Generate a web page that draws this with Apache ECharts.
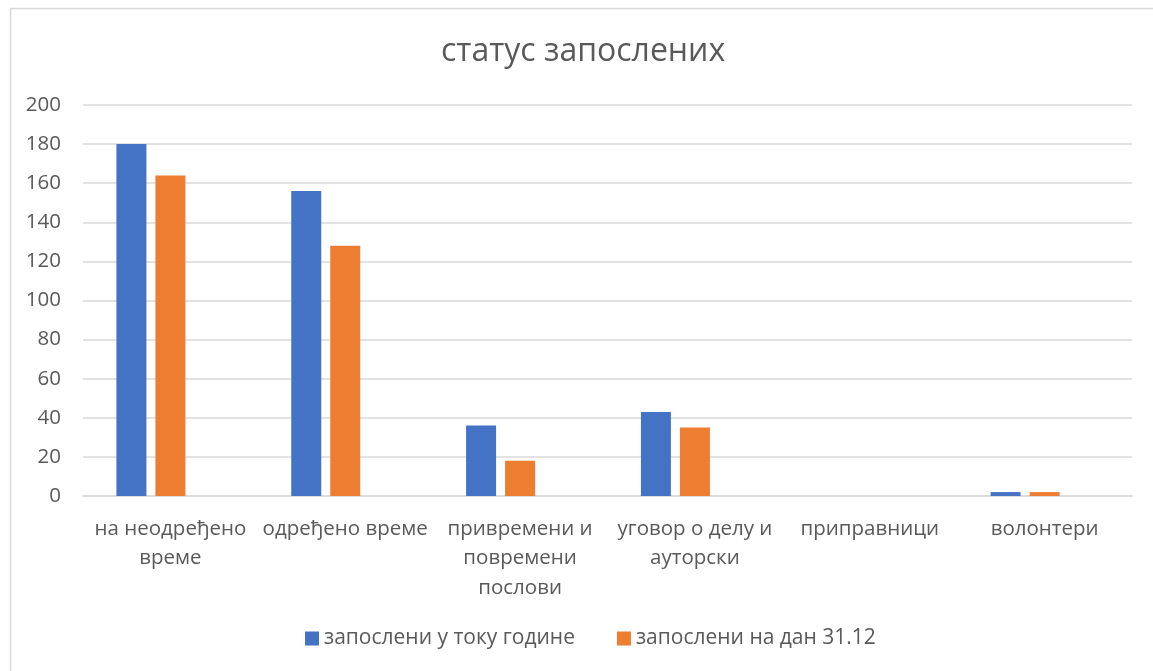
<!DOCTYPE html>
<html>
<head>
<meta charset="utf-8">
<script src="https://cdn.jsdelivr.net/npm/echarts@6/dist/echarts.min.js"></script>
<style>html,body{margin:0;padding:0;background:#fff}#c{width:1153px;height:671px}</style>
</head>
<body>
<div id="c"></div>
<script>
const categories = ["на неодређено\nвреме", "одређено време", "привремени и\nповремени\nпослови", "уговор о делу и\nауторски", "приправници", "волонтери"];
const seriesNames = ["запослени у току године", "запослени на дан 31.12"];
const duringYear = [180, 156, 36, 43, 0, 2];
const onDec31 = [164, 128, 18, 35, 0, 2];
const emptySeries = [null, null, null, null, null, null];
const yTicks = [0, 20, 40, 60, 80, 100, 120, 140, 160, 180, 200];

const FONT = '"Open Sans", "Noto Sans", sans-serif';
const chart = echarts.init(document.getElementById('c'), null, {renderer: 'canvas'});
chart.setOption({
  animation: false,
  backgroundColor: '#fff',
  textStyle: {fontFamily: FONT},
  graphic: [{
    type: 'rect', left: 8, top: 6, shape: {width: 1200, height: 700},
    style: {fill: 'none', stroke: '#D9D9D9', lineWidth: 1.5}, silent: true, z: -1
  }],
  title: {
    text: 'статус запослених', left: 436, top: 31,
    textStyle: {fontFamily: FONT, fontSize: 32, fontWeight: 'normal', color: '#595959'}
  },
  legend: {
    bottom: 17, left: 300, itemWidth: 14, itemHeight: 14, itemGap: 42, icon: 'rect',
    textStyle: {fontFamily: FONT, fontSize: 21, color: '#595959'},
    data: seriesNames
  },
  grid: {left: 83, right: 21, top: 105, bottom: 175, containLabel: false},
  xAxis: {
    type: 'category', data: categories,
    axisLine: {lineStyle: {color: '#D9D9D9', width: 1.5}},
    axisTick: {show: false},
    axisLabel: {fontFamily: FONT, fontSize: 20.5, color: '#595959', lineHeight: 29.5, margin: 18, interval: 0}
  },
  yAxis: {
    type: 'value', min: 0, max: 200, interval: 20,
    axisLine: {show: false}, axisTick: {show: false},
    splitLine: {lineStyle: {color: '#D9D9D9', width: 1.5}},
    axisLabel: {fontFamily: FONT, fontSize: 20.5, color: '#595959', margin: 22,
      formatter: v => yTicks.includes(v) ? String(v) : ''}
  },
  series: [
    {name: seriesNames[0], type: 'bar', data: duringYear, barWidth: 30, barGap: '30%',
     itemStyle: {color: '#4472C4'}},
    {name: seriesNames[1], type: 'bar', data: onDec31, barWidth: 30,
     itemStyle: {color: '#ED7D31'}},
    {name: 'empty', type: 'bar', data: emptySeries, barWidth: 30,
     itemStyle: {color: '#A5A5A5'}}
  ]
});
</script>
</body>
</html>
